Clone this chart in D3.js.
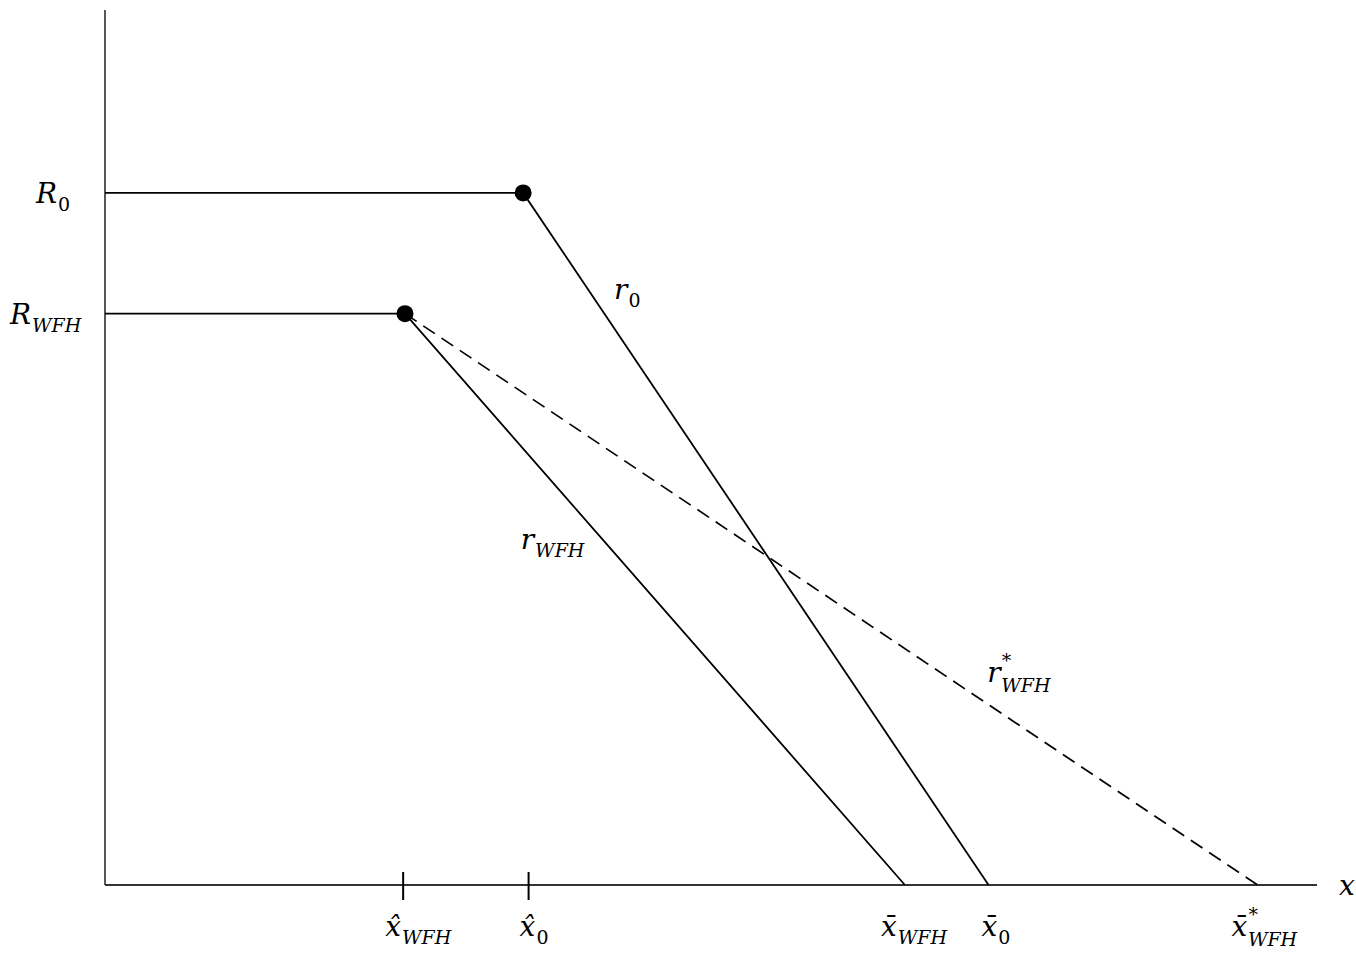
<!DOCTYPE html>
<html>
<head>
<meta charset="utf-8">
<script src="https://cdn.jsdelivr.net/npm/d3@7"></script>
<style>
  body { margin: 0; background: #fff; }
  text { font-family: "DejaVu Serif", serif; fill: #000; }
</style>
</head>
<body>
<svg width="1356" height="956"></svg>
<script>
var svg = d3.select("svg");

// schedules: flat part then linear decline to the x-axis
var r0 = [[0, 7.91], [3.45, 7.91], [7.29, 0]];
var rWFH = [[0, 6.53], [2.475, 6.53], [6.6, 0]];
var rWFHstar = [[2.475, 6.53], [9.51, 0]];
var kinks = [[3.45, 7.91], [2.475, 6.53]];
var tickX = [2.46, 3.495];

// labels: base letter, subscript, superscript
var yLabels = [
	{ y: 7.91, dx: 36, base: "R", sub: "0", subItalic: false },
	{ y: 6.53, dx: 10, base: "R", sub: "WFH", subItalic: true }
];
var xLabels = [
	{ x: 2.46, dx: -18, base: "x\u0302", sub: "WFH", subItalic: true },
	{ x: 3.495, dx: -9, base: "x\u0302", sub: "0", subItalic: false },
	{ x: 6.6, dx: -24, base: "x\u0304", sub: "WFH", subItalic: true },
	{ x: 7.29, dx: -7, base: "x\u0304", sub: "0", subItalic: false },
	{ x: 9.51, dx: -26, base: "x\u0304", sub: "WFH", sup: "*", subItalic: true }
];
var curveLabels = [
	{ x: 4.2, y: 6.7, base: "r", sub: "0", subItalic: false },
	{ x: 3.43, y: 3.84, base: "r", sub: "WFH", subItalic: true },
	{ x: 7.28, y: 2.32, base: "r", sub: "WFH", sup: "*", subItalic: true }
];

var x = d3.scaleLinear().domain([0, 10]).range([105, 1317]);
var y = d3.scaleLinear().domain([0, 10]).range([885, 10]);

var line = d3.line()
	.x(function(d) { return x(d[0]); })
	.y(function(d) { return y(d[1]); });

//axes
svg.append("line")
	.attr("x1", x(0)).attr("x2", x(0))
	.attr("y1", y(10)).attr("y2", y(0))
	.attr("stroke", "#444").attr("stroke-width", 1.8);
svg.append("line")
	.attr("x1", x(0)).attr("x2", x(10))
	.attr("y1", y(0)).attr("y2", y(0))
	.attr("stroke", "#333").attr("stroke-width", 1.8);

svg.selectAll(".tick")
	.data(tickX)
	.enter().append("line")
		.attr("class", "tick")
		.attr("x1", function(d) { return x(d); })
		.attr("x2", function(d) { return x(d); })
		.attr("y1", y(0) - 13).attr("y2", y(0) + 15)
		.attr("stroke", "#000").attr("stroke-width", 2);

//curves
[r0, rWFH].forEach(function(c) {
	svg.append("path")
		.attr("d", line(c))
		.attr("fill", "none")
		.attr("stroke", "#000")
		.attr("stroke-width", 1.8);
});
svg.append("path")
	.attr("d", line(rWFHstar))
	.attr("fill", "none")
	.attr("stroke", "#000")
	.attr("stroke-width", 1.7)
	.attr("stroke-dasharray", "14,8");

svg.selectAll(".kink")
	.data(kinks)
	.enter().append("circle")
		.attr("class", "kink")
		.attr("cx", function(d) { return x(d[0]); })
		.attr("cy", function(d) { return y(d[1]); })
		.attr("r", 8.5)
		.attr("fill", "#000");

//math-style label
function mathLabel(g, d) {
	var t = g.append("text").attr("font-size", 28);
	t.append("tspan").attr("font-style", "italic").text(d.base);
	if (d.sup) {
		t.append("tspan")
			.attr("font-size", 19)
			.attr("dy", -15)
			.attr("dx", 1)
			.text(d.sup);
		t.append("tspan")
			.attr("font-size", 19)
			.attr("font-style", d.subItalic ? "italic" : "normal")
			.attr("dy", 25)
			.attr("dx", -10)
			.text(d.sub);
	} else {
		t.append("tspan")
			.attr("font-size", 19)
			.attr("font-style", d.subItalic ? "italic" : "normal")
			.attr("dy", 8)
			.attr("dx", 1)
			.text(d.sub);
	}
	return t;
}

yLabels.forEach(function(d) {
	var g = svg.append("g")
		.attr("transform", "translate(" + d.dx + "," + (y(d.y) + 10) + ")");
	mathLabel(g, d);
});

xLabels.forEach(function(d) {
	var g = svg.append("g")
		.attr("transform", "translate(" + (x(d.x) + d.dx) + "," + (y(0) + 51) + ")");
	mathLabel(g, d);
});

curveLabels.forEach(function(d) {
	var g = svg.append("g")
		.attr("transform", "translate(" + x(d.x) + "," + y(d.y) + ")");
	mathLabel(g, d);
});

svg.append("text")
	.attr("x", x(10) + 22)
	.attr("y", y(0) + 10)
	.attr("font-size", 28)
	.attr("font-style", "italic")
	.text("x");
</script>
</body>
</html>
